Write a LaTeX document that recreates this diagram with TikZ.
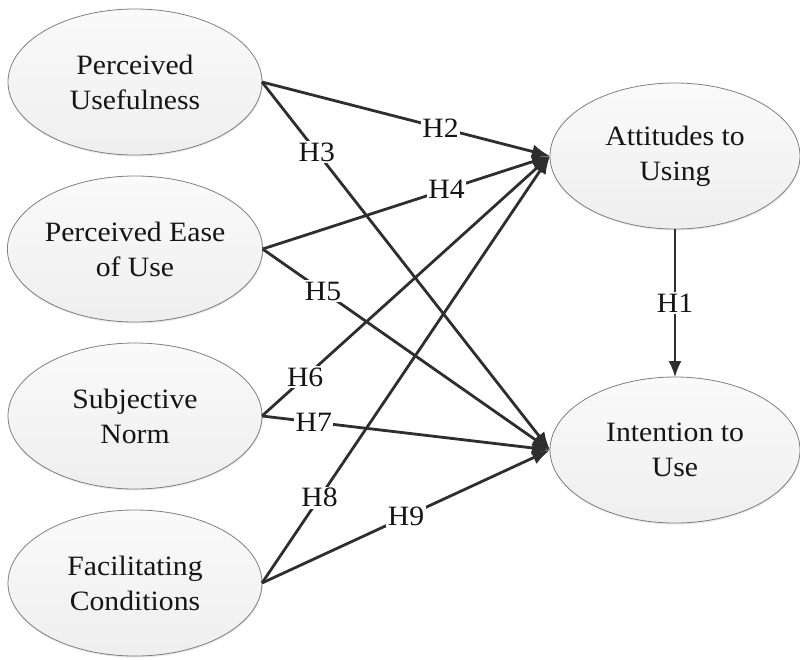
\documentclass[tikz,border=0pt]{standalone}
\usepackage{fontspec}
\setmainfont{Liberation Serif}[FakeStretch=1.06]
\usetikzlibrary{shapes.geometric,arrows.meta,shadows}
\definecolor{linec}{HTML}{2E2E2E}
\definecolor{ellborder}{HTML}{808080}
\definecolor{txt}{HTML}{151515}
\begin{document}
\begin{tikzpicture}[x=1pt,y=-1pt,
  var/.style={ellipse, draw=ellborder, line width=0.8pt,
    top color=gray!4, bottom color=gray!13,
    drop shadow={shadow xshift=0.5pt, shadow yshift=-1.5pt, opacity=0.18, fill=gray},
    minimum width=254pt, minimum height=146pt, inner sep=0pt, outer sep=0pt,
    align=center, font=\fontsize{28}{35}\selectfont, text=txt},
  hyp/.style={draw=linec, line width=2.8pt, -{Latex[length=18pt,width=14pt]}},
  hone/.style={draw=linec, line width=1.7pt, -{Latex[length=16pt,width=13pt]}},
  lab/.style={fill=white, inner sep=1.5pt, font=\fontsize{28}{30}\selectfont, text=txt}]
\useasboundingbox (0,0) rectangle (800,659);

\node[var] (PU)   at (135,82)  {Perceived\\Usefulness};
\node[var] (PEOU) at (135,249) {Perceived Ease\\of Use};
\node[var] (SN)   at (135,416) {Subjective\\Norm};
\node[var] (FC)   at (135,583) {Facilitating\\Conditions};
\node[var, minimum width=250pt] (ATU) at (675,156) {Attitudes to\\Using};
\node[var, minimum width=250pt] (ITU) at (675,450) {Intention to\\Use};

% connectors
\draw[hyp] (PU.east) -- (ATU.west);
\draw[hyp] (PU.east) -- (ITU.west);
\draw[hyp] (PEOU.east) -- (ATU.west);
\draw[hyp] (PEOU.east) -- (ITU.west);
\draw[hyp] (SN.east) -- (ATU.west);
\draw[hyp] (SN.east) -- (ITU.west);
\draw[hyp] (FC.east) -- (ATU.west);
\draw[hyp] (FC.east) -- (ITU.west);
\draw[hone] (ATU.south) -- (ITU.north);

% labels
\path (PU.east) -- node[lab,pos=0.62]{H2} (ATU.west);
\path (PU.east) -- node[lab,pos=0.19]{H3} (ITU.west);
\path (PEOU.east) -- node[lab,pos=0.64]{H4} (ATU.west);
\path (PEOU.east) -- node[lab,pos=0.21]{H5} (ITU.west);
\path (SN.east) -- node[lab,pos=0.15]{H6} (ATU.west);
\path (SN.east) -- node[lab,pos=0.18]{H7} (ITU.west);
\path (FC.east) -- node[lab,pos=0.2]{H8} (ATU.west);
\path (FC.east) -- node[lab,pos=0.5]{H9} (ITU.west);
\path (ATU.south) -- node[lab,pos=0.5]{H1} (ITU.north);
\end{tikzpicture}
\end{document}
